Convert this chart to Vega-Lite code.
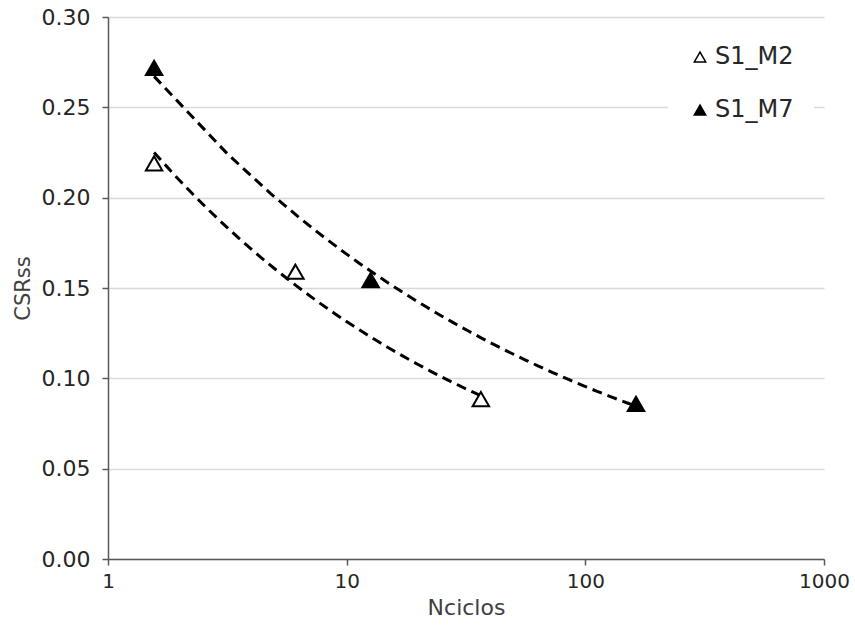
{
  "$schema": "https://vega.github.io/schema/vega-lite/v6.json",
  "width": 716,
  "height": 542,
  "autosize": {"type": "none"},
  "padding": {"left": 108, "top": 17, "right": 31, "bottom": 67},
  "background": "white",
  "config": {
    "view": {"stroke": null},
    "font": "DejaVu Sans",
    "axis": {
      "labelFont": "DejaVu Sans",
      "titleFont": "DejaVu Sans",
      "labelColor": "#262626",
      "titleColor": "#404040",
      "titleFontWeight": "normal",
      "domainColor": "#595959",
      "tickColor": "#595959",
      "domainWidth": 1.5,
      "tickWidth": 1.5,
      "labelFlush": false
    }
  },
  "data": {
    "values": [
      {"Nciclos": 1.56, "CSRss": 0.219, "series": "S1_M2"},
      {"Nciclos": 6.1, "CSRss": 0.159, "series": "S1_M2"},
      {"Nciclos": 36.5, "CSRss": 0.0885, "series": "S1_M2"},
      {"Nciclos": 1.56, "CSRss": 0.2718, "series": "S1_M7"},
      {"Nciclos": 12.6, "CSRss": 0.1544, "series": "S1_M7"},
      {"Nciclos": 163, "CSRss": 0.0858, "series": "S1_M7"}
    ]
  },
  "layer": [
    {
      "transform": [
        {"regression": "CSRss", "on": "Nciclos", "method": "pow", "groupby": ["series"]}
      ],
      "mark": {"type": "line", "color": "black", "strokeWidth": 3, "strokeDash": [10, 6], "clip": true},
      "encoding": {
        "x": {"field": "Nciclos", "type": "quantitative"},
        "y": {"field": "CSRss", "type": "quantitative"},
        "detail": {"field": "series"}
      }
    },
    {
      "mark": {"type": "point", "filled": true, "shape": "triangle-up", "size": 270, "stroke": "black", "strokeWidth": 2, "opacity": 1},
      "encoding": {
        "x": {
          "field": "Nciclos",
          "type": "quantitative",
          "scale": {"type": "log", "domain": [1, 1000], "nice": false},
          "axis": {
            "values": [1, 10, 100, 1000],
            "format": "d",
            "title": "Nciclos",
            "titleFontSize": 22,
            "titlePadding": 6,
            "labelFontSize": 20,
            "labelPadding": 6,
            "labelFlush": false,
            "tickSize": 6,
            "grid": false
          }
        },
        "y": {
          "field": "CSRss",
          "type": "quantitative",
          "scale": {"domain": [0, 0.3], "nice": false, "zero": true},
          "axis": {
            "values": [0, 0.05, 0.1, 0.15, 0.2, 0.25, 0.3],
            "format": ".2f",
            "title": "CSRss",
            "titleFontSize": 21,
            "titlePadding": 8,
            "labelFontSize": 22,
            "labelPadding": 12,
            "labelFlush": false,
            "tickSize": 6,
            "grid": true,
            "gridColor": "#d9d9d9",
            "gridWidth": 1.5
          }
        },
        "fill": {
          "field": "series",
          "type": "nominal",
          "scale": {"domain": ["S1_M2", "S1_M7"], "range": ["white", "black"]},
          "legend": {
            "title": null,
            "orient": "none",
            "legendX": 560,
            "legendY": 8,
            "padding": 20,
            "fillColor": "white",
            "symbolType": "triangle-up",
            "symbolSize": 130,
            "symbolStrokeColor": "black",
            "symbolStrokeWidth": 1.5,
            "symbolOpacity": 1,
            "labelFontSize": 24,
            "labelColor": "#262626",
            "labelOffset": 3,
            "rowPadding": 29
          }
        }
      }
    }
  ]
}
